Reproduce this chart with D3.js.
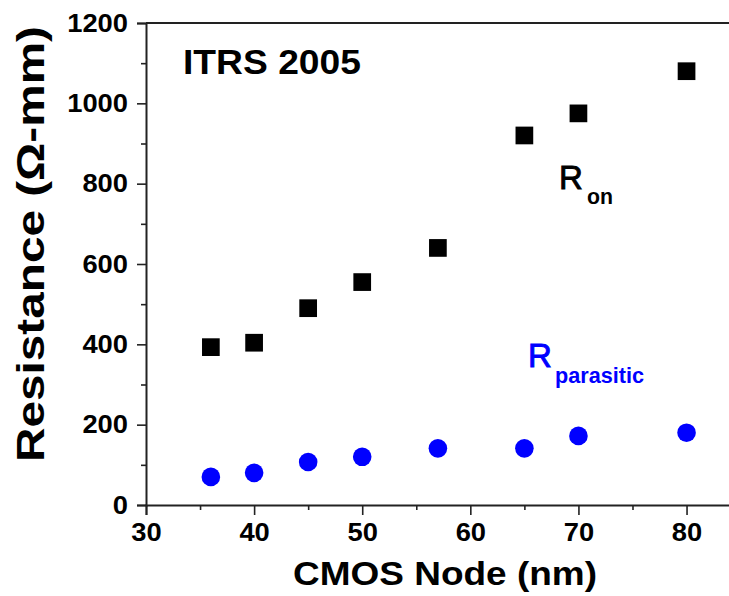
<!DOCTYPE html>
<html>
<head>
<meta charset="utf-8">
<script src="https://cdn.jsdelivr.net/npm/d3@7"></script>
<style>
  html, body { margin: 0; padding: 0; background: #ffffff; }
  svg { display: block; }
  text { font-family: "Liberation Sans", Arial, sans-serif; }
</style>
</head>
<body>
<svg id="chart" width="729" height="596"></svg>
<script>
// ---- Data ----
const nodes = [36, 40, 45, 50, 57, 65, 70, 80];
const ronValues = [393, 404, 490, 555, 640, 920, 975, 1080];
const rparValues = [70, 80, 107, 120, 141, 141, 172, 180];
const xTicks = [30, 40, 50, 60, 70, 80];
const xMinorTicks = [35, 45, 55, 65, 75, 85];
const yTicks = [0, 200, 400, 600, 800, 1000, 1200];
const yMinorTicks = [100, 300, 500, 700, 900, 1100];

const svg = d3.select("#chart");

const x = d3.scaleLinear().domain([30, 85]).range([146, 740.6]);
const y = d3.scaleLinear().domain([0, 1200]).range([505, 23]);

const axisColor = "#222";

// frame top line
svg.append("line")
  .attr("x1", x(30)).attr("x2", x(85)).attr("y1", y(1200)).attr("y2", y(1200))
  .attr("stroke", axisColor).attr("stroke-width", 2);

// X axis
const gx = svg.append("g").attr("transform", `translate(0,${y(0)})`);
gx.call(d3.axisBottom(x).tickValues(xTicks).tickSize(10).tickPadding(8).tickFormat(d3.format("d")));
gx.append("g").call(d3.axisBottom(x).tickValues(xMinorTicks).tickSize(5).tickFormat(""))
  .select(".domain").remove();
gx.selectAll(".domain").attr("stroke", axisColor).attr("stroke-width", 2);
gx.selectAll(".tick line").attr("stroke", axisColor).attr("stroke-width", 1.6);
gx.selectAll(".tick text")
  .attr("fill", "#000").attr("font-size", 26).attr("font-weight", "bold")
  .style("font-family", "'Liberation Sans', Arial, sans-serif")
  .attr("textLength", function(d){ return String(d).length * 15.2; })
  .attr("lengthAdjust", "spacingAndGlyphs");

// Y axis
const gy = svg.append("g").attr("transform", `translate(${x(30)},0)`);
gy.call(d3.axisLeft(y).tickValues(yTicks).tickSize(9).tickPadding(9).tickFormat(d3.format("d")));
gy.append("g").call(d3.axisLeft(y).tickValues(yMinorTicks).tickSize(5).tickFormat(""))
  .select(".domain").remove();
gy.selectAll(".domain").attr("stroke", axisColor).attr("stroke-width", 2);
gy.selectAll(".tick line").attr("stroke", axisColor).attr("stroke-width", 1.6);
gy.selectAll(".tick text")
  .attr("fill", "#000").attr("font-size", 26).attr("font-weight", "bold")
  .style("font-family", "'Liberation Sans', Arial, sans-serif")
  .attr("textLength", function(d){ return String(d).length * 15.2; })
  .attr("lengthAdjust", "spacingAndGlyphs");

// Axis titles
svg.append("text")
  .attr("x", 293).attr("y", 585)
  .attr("font-size", 33).attr("font-weight", "bold").attr("fill", "#000")
  .attr("textLength", 304).attr("lengthAdjust", "spacingAndGlyphs")
  .text("CMOS Node (nm)");

svg.append("text")
  .attr("transform", "translate(43.5,462) rotate(-90)")
  .attr("font-size", 39).attr("font-weight", "bold").attr("fill", "#000")
  .attr("textLength", 436).attr("lengthAdjust", "spacingAndGlyphs")
  .text("Resistance (Ω-mm)");

// Annotation
svg.append("text")
  .attr("x", 183).attr("y", 74)
  .attr("font-size", 35).attr("font-weight", "bold").attr("fill", "#000")
  .attr("textLength", 178).attr("lengthAdjust", "spacingAndGlyphs")
  .text("ITRS 2005");

// Ron series (squares)
const sq = 17.7;
svg.append("g").selectAll("rect")
  .data(nodes.map((n, i) => ({ n, v: ronValues[i] })))
  .join("rect")
  .attr("x", d => x(d.n) - sq / 2)
  .attr("y", d => y(d.v) - sq / 2)
  .attr("width", sq).attr("height", sq)
  .attr("fill", "#000");

// Rparasitic series (circles)
svg.append("g").selectAll("circle")
  .data(nodes.map((n, i) => ({ n, v: rparValues[i] })))
  .join("circle")
  .attr("cx", d => x(d.n))
  .attr("cy", d => y(d.v))
  .attr("r", 9.3)
  .attr("fill", "#0000ff");

// Series labels
const ron = svg.append("g");
ron.append("text").attr("x", 559).attr("y", 189)
  .attr("font-size", 33).attr("fill", "#000")
  .attr("stroke", "#000").attr("stroke-width", 0.9).text("R");
ron.append("text").attr("x", 587).attr("y", 204)
  .attr("font-size", 22).attr("font-weight", "bold").attr("fill", "#000")
  .attr("textLength", 26).attr("lengthAdjust", "spacingAndGlyphs").text("on");

const rp = svg.append("g");
rp.append("text").attr("x", 528).attr("y", 367)
  .attr("font-size", 33).attr("fill", "#0000ff")
  .attr("stroke", "#0000ff").attr("stroke-width", 0.9).text("R");
rp.append("text").attr("x", 555).attr("y", 383)
  .attr("font-size", 22).attr("font-weight", "bold").attr("fill", "#0000ff")
  .attr("textLength", 89).attr("lengthAdjust", "spacingAndGlyphs").text("parasitic");
</script>
</body>
</html>
